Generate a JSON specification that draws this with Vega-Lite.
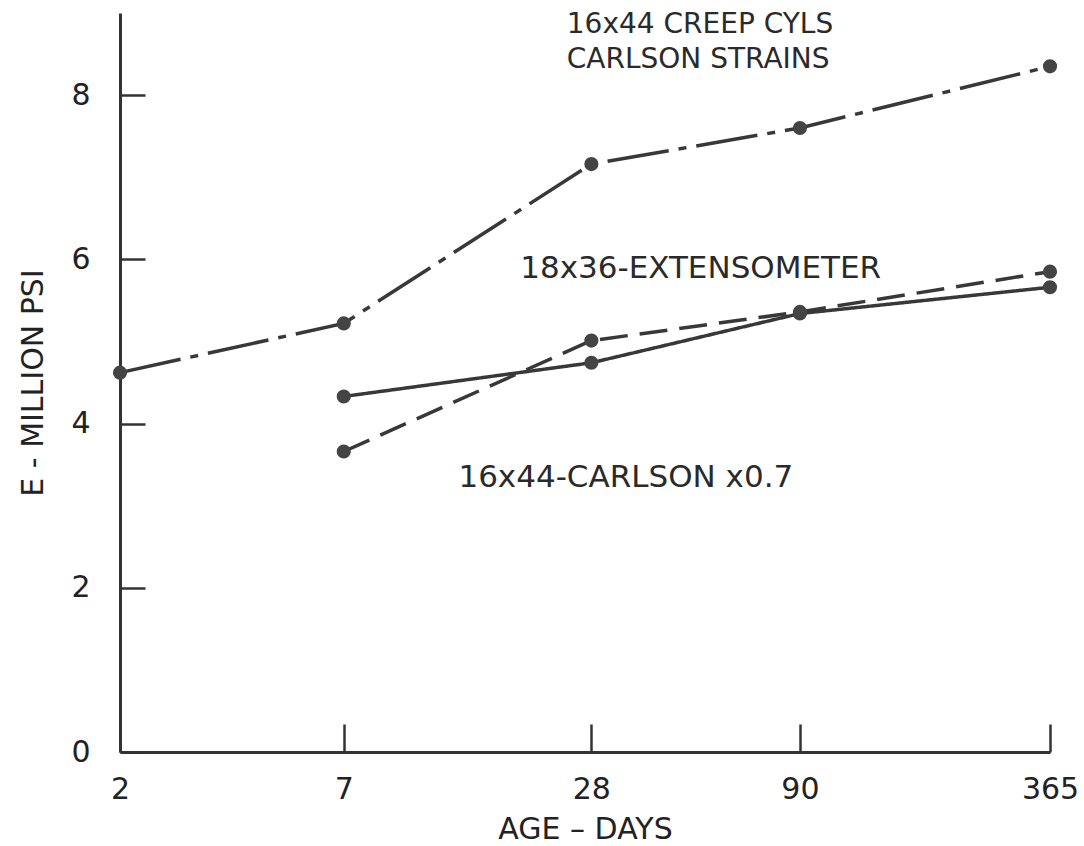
{
  "$schema": "https://vega.github.io/schema/vega-lite/v6.json",
  "width": 930,
  "height": 739,
  "autosize": {"type": "none"},
  "padding": {"left": 120, "top": 13, "right": 34, "bottom": 94},
  "background": "white",
  "config": {
    "view": {"stroke": null},
    "font": "DejaVu Sans",
    "axis": {
      "domainColor": "#333333",
      "domainWidth": 3,
      "tickColor": "#333333",
      "tickWidth": 2.5,
      "grid": false,
      "labelFont": "DejaVu Sans",
      "labelFontSize": 30,
      "labelColor": "#222222",
      "titleFont": "DejaVu Sans",
      "titleFontSize": 30,
      "titleFontWeight": "normal",
      "titleColor": "#222222"
    }
  },
  "datasets": {
    "series": [
      {"series": "creep", "day": 2, "E": 4.62},
      {"series": "creep", "day": 7, "E": 5.22},
      {"series": "creep", "day": 28, "E": 7.16},
      {"series": "creep", "day": 90, "E": 7.6},
      {"series": "creep", "day": 365, "E": 8.35},
      {"series": "carlson07", "day": 7, "E": 3.66},
      {"series": "carlson07", "day": 28, "E": 5.01},
      {"series": "carlson07", "day": 90, "E": 5.36},
      {"series": "carlson07", "day": 365, "E": 5.85},
      {"series": "extenso", "day": 7, "E": 4.33},
      {"series": "extenso", "day": 28, "E": 4.74},
      {"series": "extenso", "day": 90, "E": 5.34},
      {"series": "extenso", "day": 365, "E": 5.66}
    ],
    "topLabels": [
      {"label": "16x44 CREEP CYLS", "day": 24.4, "E": 8.85},
      {"label": "CARLSON STRAINS", "day": 24.4, "E": 8.43}
    ],
    "midLabels": [
      {"label": "18x36-EXTENSOMETER", "day": 18.8, "E": 5.88},
      {"label": "16x44-CARLSON x0.7", "day": 13.3, "E": 3.34}
    ]
  },
  "layer": [
    {
      "data": {"name": "series"},
      "mark": {"type": "line", "strokeWidth": 3.5, "color": "#383838"},
      "encoding": {
        "x": {
          "field": "day", "type": "quantitative",
          "scale": {"type": "log", "domain": [2, 365], "nice": false},
          "axis": {
            "values": [2, 7, 28, 90, 365],
            "format": "d",
            "tickSize": -28,
            "labelPadding": 50,
            "labelFlush": false,
            "title": "AGE – DAYS",
            "titlePadding": 10
          }
        },
        "y": {
          "field": "E", "type": "quantitative",
          "scale": {"domain": [0, 9], "nice": false},
          "axis": {
            "values": [0, 2, 4, 6, 8],
            "format": "d",
            "tickSize": -25,
            "labelPadding": 55,
            "title": "E - MILLION PSI",
            "titlePadding": 22
          }
        },
        "detail": {"field": "series"},
        "strokeDash": {
          "field": "series", "type": "nominal",
          "scale": {
            "domain": ["creep", "carlson07", "extenso"],
            "range": [[62, 10, 8, 10], [28, 12], [1, 0]]
          },
          "legend": null
        }
      }
    },
    {
      "data": {"name": "series"},
      "mark": {"type": "point", "filled": true, "size": 200, "color": "#444444", "opacity": 1},
      "encoding": {
        "x": {"field": "day", "type": "quantitative", "scale": {"type": "log", "domain": [2, 365], "nice": false}},
        "y": {"field": "E", "type": "quantitative", "scale": {"domain": [0, 9], "nice": false}}
      }
    },
    {
      "data": {"name": "topLabels"},
      "mark": {"type": "text", "align": "left", "baseline": "middle", "fontSize": 28, "color": "#2a2a2a", "font": "DejaVu Sans"},
      "encoding": {
        "x": {"field": "day", "type": "quantitative", "scale": {"type": "log", "domain": [2, 365], "nice": false}},
        "y": {"field": "E", "type": "quantitative", "scale": {"domain": [0, 9], "nice": false}},
        "text": {"field": "label"}
      }
    },
    {
      "data": {"name": "midLabels"},
      "mark": {"type": "text", "align": "left", "baseline": "middle", "fontSize": 31, "color": "#2a2a2a", "font": "DejaVu Sans"},
      "encoding": {
        "x": {"field": "day", "type": "quantitative", "scale": {"type": "log", "domain": [2, 365], "nice": false}},
        "y": {"field": "E", "type": "quantitative", "scale": {"domain": [0, 9], "nice": false}},
        "text": {"field": "label"}
      }
    }
  ]
}
